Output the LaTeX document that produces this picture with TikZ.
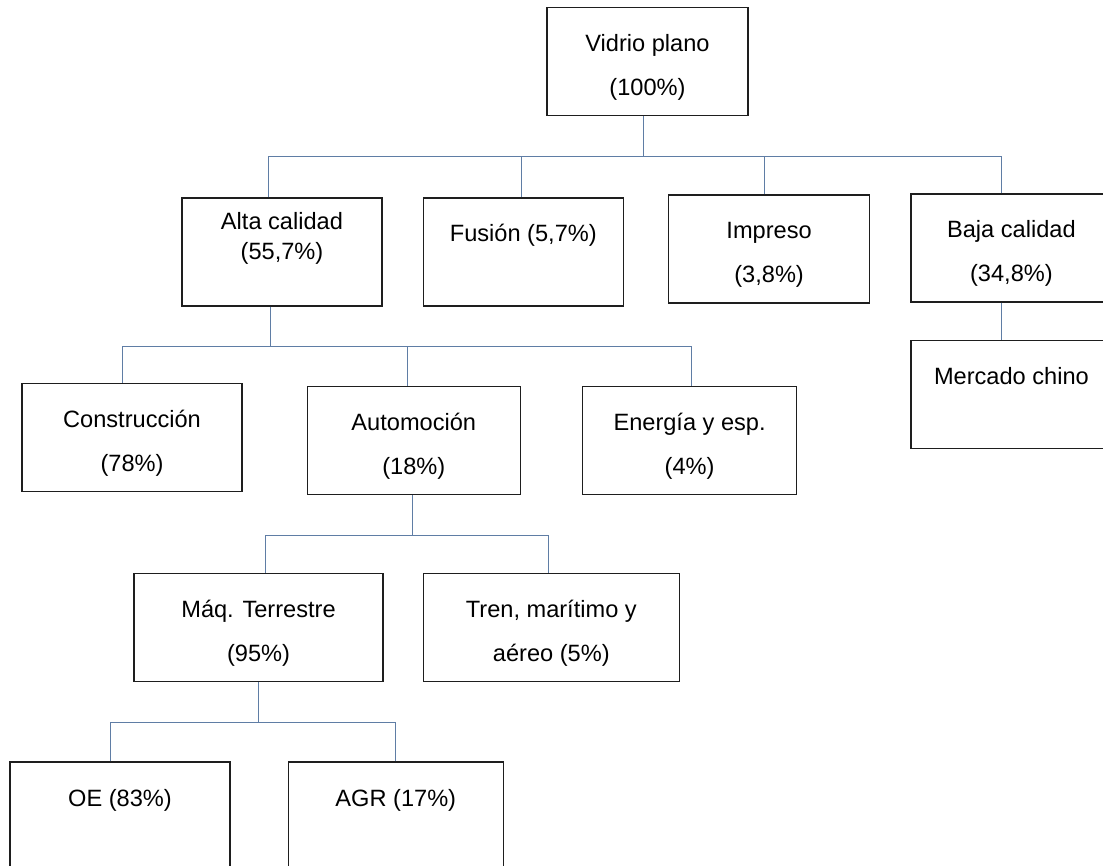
\documentclass[tikz,border=0pt]{standalone}
\usepackage{fontspec}
\setmainfont{Liberation Sans}
\usepackage{tikz}
\usetikzlibrary{positioning}

\definecolor{boxLine}{RGB}{30,30,30}
\definecolor{branchBlue}{RGB}{95,125,165}

\begin{document}
\begin{tikzpicture}[x=1pt, y=1pt]
  \tikzstyle{share} = [draw=boxLine, line width=1.3pt, rectangle, inner sep=0pt, minimum height=108pt, text height=44pt, text depth=64pt, align=center, font={\fontsize{23.6}{44}\selectfont}]
  \tikzstyle{shareTwo} = [share, text height=88pt, text depth=20pt]
  \tikzstyle{shareTight} = [share, text height=62pt, text depth=46pt]
  \tikzstyle{branchEdge} = [draw=branchBlue, line width=1pt];

  \clip (0,0) rectangle (1103,-866);

  % level 0 and 1
  \node[shareTwo, minimum width=201pt] (vidrio) at (647.5,-61.5) {Vidrio plano\\(100\%)};
  \node[shareTight, minimum width=200pt] (alta) at (282,-252) {Alta calidad\\[-14pt](55,7\%)};
  \node[share, minimum width=200pt] (fusion) [right=40pt of alta] {Fusión (5,7\%)};
  \node[shareTwo, minimum width=201pt] (impreso) [right=44pt of fusion, yshift=3pt] {Impreso\\(3,8\%)};
  \node[shareTwo, minimum width=201pt] (baja) [right=40pt of impreso, yshift=1pt] {Baja calidad\\(34,8\%)};
  \node[share, minimum width=201pt] (mercado) [below=37pt of baja] {Mercado chino};

  % level 2
  \node[shareTwo, minimum width=220pt] (construccion) at (132,-437.5) {Construcción\\(78\%)};
  \node[shareTwo, minimum width=213pt] (automocion) [right=64pt of construccion, yshift=-3pt] {Automoción\\(18\%)};
  \node[shareTwo, minimum width=214pt] (energia) [right=61pt of automocion] {Energía y esp.\\(4\%)};

  % level 3 and 4
  \node[shareTwo, minimum width=249pt] (maq) at (258.5,-627.5) {Máq. Terrestre\\(95\%)};
  \node[shareTwo, minimum width=256pt] (tren) [right=39pt of maq] {Tren, marítimo y\\aéreo (5\%)};
  \node[share, minimum width=220pt] (oe) at (120,-816) {OE (83\%)};
  \node[share, minimum width=215pt] (agr) [right=57pt of oe] {AGR (17\%)};

  \draw[branchEdge] ([xshift=-4.5pt]vidrio.south) -- ++(0,-40pt) coordinate (busTop);
  \foreach \n/\dx in {alta/-14, fusion/-2, impreso/-4.5, baja/-9.5}
    \draw[branchEdge] ([xshift=\dx pt]\n.north) |- (busTop);
  \draw[branchEdge] ([xshift=-9.5pt]baja.south) -- ([xshift=-9.5pt]mercado.north);

  \draw[branchEdge] ([xshift=-12pt]alta.south) -- ++(0,-40pt) coordinate (busAlta);
  \foreach \n/\dx in {construccion/-10, automocion/-6.5, energia/2}
    \draw[branchEdge] ([xshift=\dx pt]\n.north) |- (busAlta);

  \draw[branchEdge] ([xshift=-1.5pt]automocion.south) -- ++(0,-40pt) coordinate (busAuto);
  \foreach \n/\dx in {maq/6.5, tren/-3}
    \draw[branchEdge] ([xshift=\dx pt]\n.north) |- (busAuto);

  \draw[branchEdge] (maq.south) -- ++(0,-40pt) coordinate (busMaq);
  \foreach \n/\dx in {oe/-10, agr/0}
    \draw[branchEdge] ([xshift=\dx pt]\n.north) |- (busMaq);
\end{tikzpicture}
\end{document}
